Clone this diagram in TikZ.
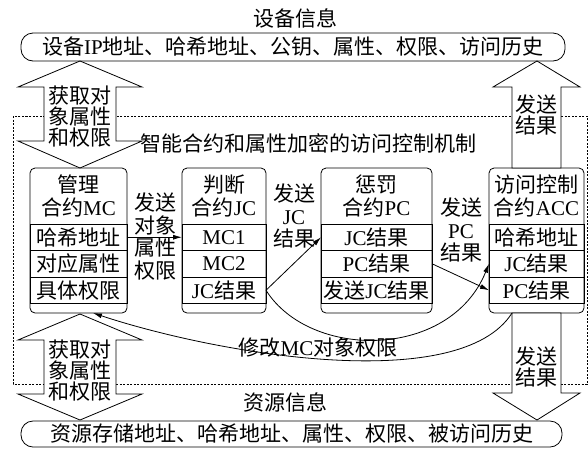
\documentclass[tikz,border=0pt]{standalone}
\usepackage{fontspec}
\setmainfont{Noto Sans CJK SC}
\newfontfamily\ltn{Liberation Serif}
\newcommand\lat[1]{{\ltn #1}}
\usetikzlibrary{positioning,arrows.meta}

\begin{document}
\begin{tikzpicture}[x=1pt, y=-1pt, font=\fontsize{21}{22.5}\selectfont,
      >={Latex[length=9pt,width=5pt]}, line width=0.8pt,
      cbox/.style={draw, rounded corners=5pt, minimum height=145pt, inner sep=0pt, outer sep=0pt},
      head/.style={minimum height=56pt, inner sep=0pt, outer sep=0pt, align=center},
      row/.style={draw, minimum height=26.5pt, inner sep=0pt, outer sep=0pt},
      info/.style={draw, rounded corners=12pt, inner sep=0pt, outer sep=0pt},
      fat/.style={draw, fill=white, line join=miter},
      lbl/.style={align=center, inner sep=0pt},
      tight/.style={align=center, inner sep=0pt, font=\fontsize{21}{21}\selectfont}]
    \useasboundingbox (0,0) rectangle (588,448);
    % information on both sides
    \node[lbl] (devt) at (295,18) {设备信息};
    \node[info, minimum width=544pt, minimum height=28pt] (dev) at (293,47)
      {设备\lat{IP}地址、哈希地址、公钥、属性、权限、访问历史};
    \node[lbl] (rest) at (285,402) {资源信息};
    \node[info, minimum width=541pt, minimum height=26pt] (res) at (291.5,434)
      {资源存储地址、哈希地址、属性、权限、被访问历史};
    % mechanism frame
    \draw[dash pattern=on 2pt off 1.5pt] (13,116) rectangle (587,384);
    \node[lbl] (mech) at (308,143) {智能合约和属性加密的访问控制机制};
    % contracts
    \node[cbox, minimum width=97pt] (mc) at (78.5,240.5) {};
    \node[head, anchor=north] (mct) at (mc.north) {管理\\合约\lat{MC}};
    \node[row, minimum width=97pt, below=0pt of mct] (mc1) {哈希地址};
    \node[row, minimum width=97pt, below=0pt of mc1] (mc2) {对应属性};
    \node[row, minimum width=97pt, below=0pt of mc2] (mc3) {具体权限};
    \node[cbox, minimum width=84pt] (jc) at (224,240.5) {};
    \node[head, anchor=north] (jct) at (jc.north) {判断\\合约\lat{JC}};
    \node[row, minimum width=84pt, below=0pt of jct] (jc1) {\lat{MC1}};
    \node[row, minimum width=84pt, below=0pt of jc1] (jc2) {\lat{MC2}};
    \node[row, minimum width=84pt, below=0pt of jc2] (jc3) {\lat{JC}结果};
    \node[cbox, minimum width=111pt] (pc) at (376.5,240.5) {};
    \node[head, anchor=north] (pct) at (pc.north) {惩罚\\合约\lat{PC}};
    \node[row, minimum width=111pt, below=0pt of pct] (pc1) {\lat{JC}结果};
    \node[row, minimum width=111pt, below=0pt of pc1] (pc2) {\lat{PC}结果};
    \node[row, minimum width=111pt, below=0pt of pc2] (pc3) {发送\lat{JC}结果};
    \node[cbox, minimum width=95pt] (acc) at (536.5,240.5) {};
    \node[head, anchor=north] (acct) at (acc.north) {访问控制\\合约\lat{ACC}};
    \node[row, minimum width=95pt, below=0pt of acct] (acc1) {哈希地址};
    \node[row, minimum width=95pt, below=0pt of acc1] (acc2) {\lat{JC}结果};
    \node[row, minimum width=95pt, below=0pt of acc2] (acc3) {\lat{PC}结果};
    % fat arrows
    \draw[fat] (80,61) -- (142,87) -- (116,87) -- (116,141) -- (142,141) -- (80,168)
      -- (18,141) -- (44,141) -- (44,87) -- (18,87) -- cycle;
    \node[tight] (getup) at (80,117) {获取对\\象属性\\和权限};
    \draw[fat] (80,314) -- (142,340) -- (116,340) -- (116,394) -- (142,394) -- (80,420)
      -- (18,394) -- (44,394) -- (44,340) -- (18,340) -- cycle;
    \node[tight] (getdn) at (80,371) {获取对\\象属性\\和权限};
    \draw[fat] (537,61) -- (580,87) -- (561,87) -- (561,168) -- (512,168) -- (512,87)
      -- (493,87) -- cycle;
    \node[tight] (sendup) at (536.5,115) {发送\\结果};
    \draw[fat] (512,313) -- (561,313) -- (561,393) -- (580,393) -- (537,420) -- (493,393)
      -- (512,393) -- cycle;
    \node[tight] (senddn) at (536.5,367) {发送\\结果};
    % connectors
    \draw[->] (mc1.east) -- (jc1.west);
    \node[lbl] (l1) at (155,236.5) {发送\\对象\\属性\\权限};
    \draw[->] (jc3.east) -- (pc1.west);
    \node[lbl] (l2) at (294,216) {发送\\\lat{JC}\\结果};
    \draw[->] (jc3.east) .. controls (310,360) and (450,360) .. (acc2.west);
    \draw[->] (pc2.east) -- (acc3.west);
    \node[lbl] (l3) at (461,230) {发送\\\lat{PC}\\结果};
    \draw[->] ([xshift=-24.5pt]acc.south) .. controls (460,395) and (220,355) .. ([xshift=14.5pt]mc.south);
    \node[lbl] (l4) at (318,348) {修改\lat{MC}对象权限};
  \end{tikzpicture}
\end{document}
